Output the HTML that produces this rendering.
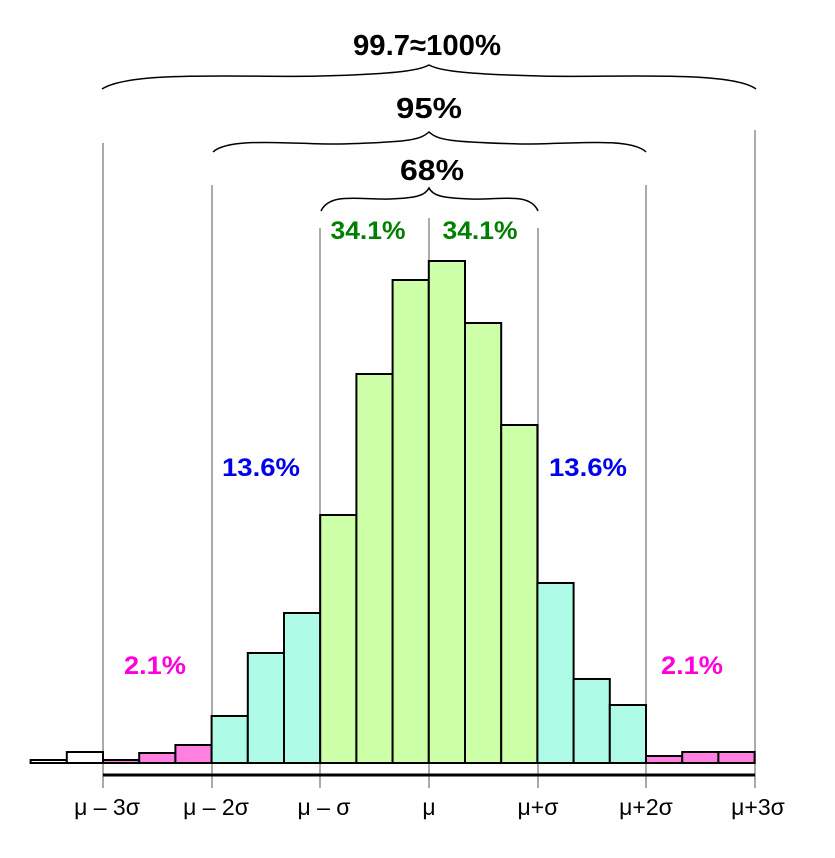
<!DOCTYPE html><html><head><style>body{margin:0;background:#fff}</style></head><body>
<svg width="835" height="853" xmlns="http://www.w3.org/2000/svg" font-family="Liberation Sans, sans-serif">
<g stroke="#aaa" stroke-width="2">
<line x1="103" y1="143" x2="103" y2="788"/><line x1="212" y1="185" x2="212" y2="788"/>
<line x1="320" y1="228" x2="320" y2="788"/><line x1="429" y1="218" x2="429" y2="788"/>
<line x1="538" y1="228" x2="538" y2="788"/><line x1="646" y1="185" x2="646" y2="788"/>
<line x1="755" y1="130" x2="755" y2="788"/></g>
<g stroke="#000" stroke-width="2">
<rect x="30.6" y="760" width="36.2" height="3" fill="#fff"/>
<rect x="66.8" y="752" width="36.2" height="11" fill="#fff"/>
<rect x="103" y="760" width="36.2" height="3" fill="#ff80e0"/>
<rect x="139.2" y="753" width="36.2" height="10" fill="#ff80e0"/>
<rect x="175.4" y="745" width="36.2" height="18" fill="#ff80e0"/>
<rect x="211.6" y="716" width="36.2" height="47" fill="#aefce8"/>
<rect x="247.8" y="653" width="36.2" height="110" fill="#aefce8"/>
<rect x="284" y="613" width="36.2" height="150" fill="#aefce8"/>
<rect x="320.2" y="515" width="36.2" height="248" fill="#ccffa8"/>
<rect x="356.4" y="374" width="36.2" height="389" fill="#ccffa8"/>
<rect x="392.6" y="280" width="36.2" height="483" fill="#ccffa8"/>
<rect x="428.8" y="261" width="36.2" height="502" fill="#ccffa8"/>
<rect x="465" y="323" width="36.2" height="440" fill="#ccffa8"/>
<rect x="501.2" y="425" width="36.2" height="338" fill="#ccffa8"/>
<rect x="537.4" y="583" width="36.2" height="180" fill="#aefce8"/>
<rect x="573.6" y="679" width="36.2" height="84" fill="#aefce8"/>
<rect x="609.8" y="705" width="36.2" height="58" fill="#aefce8"/>
<rect x="646" y="756" width="36.2" height="7" fill="#ff80e0"/>
<rect x="682.2" y="752" width="36.2" height="11" fill="#ff80e0"/>
<rect x="718.4" y="752" width="36.2" height="11" fill="#ff80e0"/>
</g>
<line x1="103" y1="775" x2="755" y2="775" stroke="#000" stroke-width="3"/>
<g fill="none" stroke="#000" stroke-width="1.5">
<path d="M102,89 C130,70 250,78 320,76 C400,74 420,70 429,65 C438,70 458,74 540,76 C610,78 730,70 756,89"/>
<path d="M213,152 C230,136 300,145 340,144 C410,142 420,140 429,132 C438,140 448,142 520,144 C560,145 630,136 646,152"/>
<path d="M321,211 C330,192 360,200 390,199 C415,198 425,196 429,188 C433,196 443,198 470,199 C500,200 530,192 538,211"/>
</g>
<g font-weight="bold" text-anchor="middle">
<text x="427" y="55" font-size="29" textLength="148" lengthAdjust="spacingAndGlyphs">99.7≈100%</text>
<text x="429" y="118" font-size="29" textLength="66" lengthAdjust="spacingAndGlyphs">95%</text>
<text x="432" y="180" font-size="29" textLength="64" lengthAdjust="spacingAndGlyphs">68%</text>
<g fill="#008000" font-size="25"><text x="368" y="239" textLength="75" lengthAdjust="spacingAndGlyphs">34.1%</text><text x="480" y="239" textLength="75" lengthAdjust="spacingAndGlyphs">34.1%</text></g>
<g fill="#0000ee" font-size="25"><text x="261" y="476" textLength="78" lengthAdjust="spacingAndGlyphs">13.6%</text><text x="588" y="476" textLength="78" lengthAdjust="spacingAndGlyphs">13.6%</text></g>
<g fill="#ff00dd" font-size="25"><text x="155" y="674" textLength="62" lengthAdjust="spacingAndGlyphs">2.1%</text><text x="692" y="674" textLength="62" lengthAdjust="spacingAndGlyphs">2.1%</text></g>
</g>
<g font-size="23" text-anchor="middle">
<text x="107" y="815">μ – 3σ</text><text x="216" y="815">μ – 2σ</text><text x="324" y="815">μ – σ</text>
<text x="429" y="815">μ</text><text x="538" y="815">μ+σ</text><text x="646" y="815">μ+2σ</text><text x="758" y="815">μ+3σ</text>
</g>
</svg></body></html>
